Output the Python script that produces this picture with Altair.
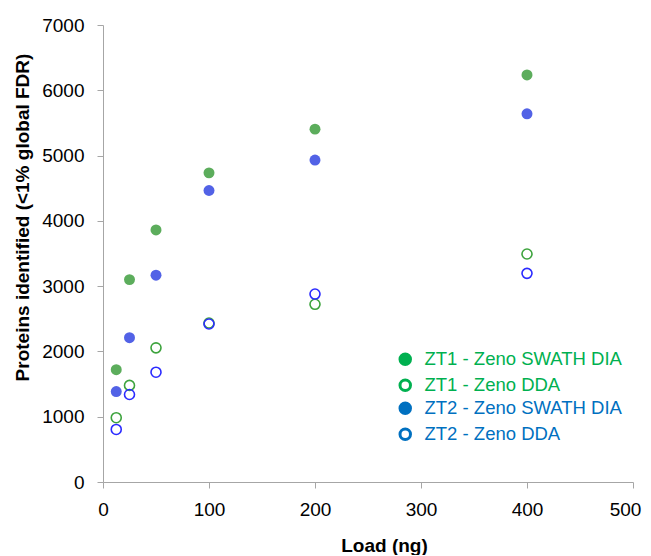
import altair as alt
import pandas as pd

# ---- data ----
load = [12.5, 25, 50, 100, 200, 400]
zt1_swath = [1720, 3100, 3860, 4735, 5405, 6235]
zt1_dda = [985, 1480, 2055, 2435, 2722, 3492]
zt2_swath = [1385, 2210, 3168, 4465, 4932, 5640]
zt2_dda = [805, 1340, 1682, 2420, 2879, 3196]

series_names = ["ZT1 - Zeno SWATH DIA", "ZT1 - Zeno DDA",
                "ZT2 - Zeno SWATH DIA", "ZT2 - Zeno DDA"]
x_ticks = [0, 100, 200, 300, 400, 500]
y_ticks = [0, 1000, 2000, 3000, 4000, 5000, 6000, 7000]

rows = []
for name, vals in zip(series_names, [zt1_swath, zt1_dda, zt2_swath, zt2_dda]):
    for l, v in zip(load, vals):
        rows.append({"load": l, "proteins": v, "series": name, "group": name[:3]})
df = pd.DataFrame(rows)

FONT = "Liberation Sans"
AXIS_GREY = "#a6a6a6"

x_enc = alt.X("load:Q",
              scale=alt.Scale(domain=[0, 500], nice=False, zero=False),
              axis=alt.Axis(values=x_ticks, title="Load (ng)", grid=False,
                            domainColor=AXIS_GREY, tickColor=AXIS_GREY, tickSize=6,
                            labelFont=FONT, labelFontSize=19, labelColor="#000000",
                            labelPadding=12, labelFlush=False, labelOverlap=False,
                            labelOffset={"condition": {"test": "datum.value == 500",
                                                       "value": -8},
                                         "value": 0},
                            format="d",
                            titleFont=FONT, titleFontSize=19, titleFontWeight="bold",
                            titleColor="#000000", titleX=281, titleY=69,
                            titleBaseline="alphabetic", titleAlign="center"))
y_enc = alt.Y("proteins:Q",
              scale=alt.Scale(domain=[0, 7000], nice=False, zero=False),
              axis=alt.Axis(values=y_ticks, title="Proteins identified (<1% global FDR)",
                            grid=False, domainColor=AXIS_GREY, tickColor=AXIS_GREY,
                            tickSize=6, labelFont=FONT, labelFontSize=19,
                            labelColor="#000000", labelPadding=13, labelFlush=False,
                            labelOverlap=False, format="d",
                            titleFont=FONT, titleFontSize=19, titleFontWeight="bold",
                            titleColor="#000000", titleX=-75, titleY=192,
                            titleAngle=270, titleBaseline="alphabetic",
                            titleAlign="center"))

base = alt.Chart(df)

def filt(name):
    return base.transform_filter(alt.datum.series == name)

p1 = filt(series_names[0]).mark_point(shape="circle", filled=True, size=120, opacity=1,
                                      color="#5cad5c").encode(x=x_enc, y=y_enc)
p2 = filt(series_names[1]).mark_point(shape="circle", filled=False, size=100, opacity=1,
                                      color="#3da33d", strokeWidth=1.6).encode(x=x_enc, y=y_enc)
p3 = filt(series_names[2]).mark_point(shape="circle", filled=True, size=120, opacity=1,
                                      color="#5262e6").encode(x=x_enc, y=y_enc)
p4 = filt(series_names[3]).mark_point(shape="circle", filled=False, size=100, opacity=1,
                                      color="#2b2bff", strokeWidth=1.6).encode(x=x_enc, y=y_enc)


def legend_layer(group, color, lx, ly):
    names = [n for n in series_names if n.startswith(group)]
    leg = alt.Legend(orient="none", legendX=lx, legendY=ly, title=None,
                     labelColor=color, labelFont=FONT, labelFontSize=18.5,
                     symbolType="circle", symbolSize=110, symbolStrokeWidth=3,
                     symbolOpacity=1, labelOffset=10, rowPadding=3, padding=0,
                     labelLimit=400)
    return base.transform_filter(alt.datum.group == group).mark_point(
        shape="circle", filled=True, opacity=0).encode(
        x=x_enc, y=y_enc,
        fill=alt.Fill("series:N", scale=alt.Scale(domain=names, range=[color, "white"]),
                      legend=leg),
        stroke=alt.Stroke("series:N", scale=alt.Scale(domain=names, range=[color, color]),
                          legend=leg),
    )

l1 = legend_layer("ZT1", "#00b050", 293, 325)
l2 = legend_layer("ZT2", "#0070c0", 293, 374)

chart = alt.layer(p1, p2, p3, p4, l1, l2).resolve_scale(
    fill="independent", stroke="independent"
).resolve_legend(
    fill="independent", stroke="independent"
).properties(
    width=530, height=457,
    padding={"left": 95, "top": 17, "right": 10, "bottom": 73},
    autosize=alt.AutoSizeParams(type="none"),
    background="white",
).configure_view(stroke=None)

chart.save("out.html", embed_options={"renderer": "svg", "actions": False})
